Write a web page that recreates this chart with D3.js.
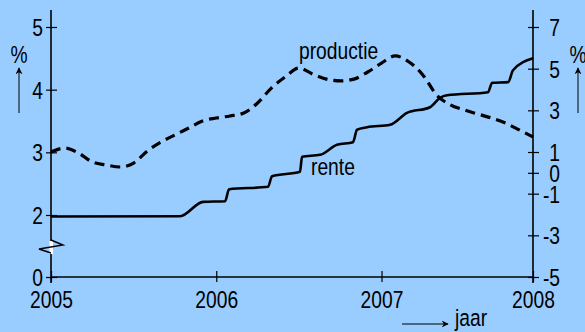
<!DOCTYPE html>
<html>
<head>
<meta charset="utf-8">
<script src="https://cdn.jsdelivr.net/npm/d3@7"></script>
<style>
  html, body { margin: 0; padding: 0; background: #99ccff; }
  svg { display: block; font-family: "Liberation Sans", Arial, sans-serif; }
</style>
</head>
<body>
<svg id="chart" width="585" height="332"></svg>
<script>
// Productie (% change, right axis), monthly from Jan 2005 (month 0) to Dec 2007 (month 35)
const prodMonths = d3.range(0, 36);
const prodValues = [1.0, 1.19, 0.95, 0.52, 0.38, 0.28, 0.47, 1.05, 1.48, 1.82, 2.15, 2.49,
                    2.63, 2.73, 2.87, 3.35, 4.07, 4.6, 5.03, 4.74, 4.5, 4.41, 4.5, 4.84,
                    5.27, 5.61, 5.32, 4.7, 3.74, 3.26, 3.02, 2.82, 2.63, 2.39, 2.06, 1.72];

// Rente (%, left axis), dated in months since Jan 2005
const renteMonths = [0, 9.37, 11.04, 12.64, 12.93, 15.76, 16.05, 18.08, 18.23, 19.54, 20.77,
                     21.93, 22.22, 22.95, 24.62, 25.85, 27.52, 28.25, 28.76, 31.74, 32.03,
                     33.19, 33.55, 35];
const renteValues = [1.95, 1.96, 2.21, 2.22, 2.41, 2.45, 2.62, 2.69, 2.93, 2.96, 3.12,
                     3.16, 3.36, 3.40, 3.44, 3.63, 3.72, 3.87, 3.91, 3.96, 4.11,
                     4.12, 4.31, 4.5];

const leftTicks = [0, 2, 3, 4, 5];
const rightTicks = [-5, -3, -1, 0, 1, 3, 5, 7];
const yearTickMonths = [0, 12, 24, 35];
const yearLabels = ["2005", "2006", "2007", "2008"];

const svg = d3.select("#chart");
const plotL = 51, plotR = 533, plotT = 27, plotB = 277;

const x = d3.scaleLinear().domain([0, 35]).range([plotL, plotR]);
// left axis is broken between 0 and 2
const yL = d3.scaleLinear().domain([0, 2, 5]).range([plotB, 215, plotT]);
const yR = d3.scaleLinear().domain([-5, 7]).range([plotB, plotT]);

// narrow lettering: regular face squeezed horizontally
const fontSize = 23.5;
const sx = 0.82;

function addText(px, py, str, anchor) {
  return svg.append("text")
    .attr("transform", `translate(${px},${py}) scale(${sx},1)`)
    .attr("text-anchor", anchor || "start")
    .attr("font-size", fontSize).attr("fill", "#000")
    .text(str);
}

// Axes
const gL = svg.append("g").attr("transform", `translate(${plotL},0)`)
  .call(d3.axisLeft(yL).tickValues(leftTicks).tickFormat(d3.format("d")).tickSize(0));
const gR = svg.append("g").attr("transform", `translate(${plotR},0)`)
  .call(d3.axisRight(yR).tickValues(rightTicks).tickFormat(d => d < 0 ? "-" + Math.abs(d) : d).tickSize(0));
const gB = svg.append("g").attr("transform", `translate(0,${plotB})`)
  .call(d3.axisBottom(x).tickValues(yearTickMonths).tickFormat((d, i) => yearLabels[i]).tickSize(0));

[gL, gR, gB].forEach(g => {
  g.select(".domain").remove();
  g.selectAll("text").attr("fill", "#000").attr("font-size", fontSize)
    .attr("font-family", "'Liberation Sans', Arial, sans-serif")
    .attr("transform", `scale(${sx},1)`);
});
gL.selectAll(".tick line").attr("x1", -5).attr("x2", 6).attr("stroke", "#000").attr("stroke-width", 1.2);
gR.selectAll(".tick line").attr("x1", -5).attr("x2", 6).attr("stroke", "#000").attr("stroke-width", 1.2);
gB.selectAll(".tick line").attr("y1", -6).attr("y2", 5).attr("stroke", "#000").attr("stroke-width", 1.2);
gL.selectAll("text").attr("text-anchor", "end").attr("x", -8 / sx).attr("dy", "0.36em");
gR.selectAll("text").attr("text-anchor", "end").attr("x", 27 / sx).attr("dy", "0.36em");
gB.selectAll("text").attr("text-anchor", "middle").attr("x", 0).attr("y", 31).attr("dy", 0);

// axis lines
svg.append("line").attr("x1", plotL).attr("x2", plotL).attr("y1", 10).attr("y2", 283)
  .attr("stroke", "#000").attr("stroke-width", 1.6);
svg.append("line").attr("x1", plotR).attr("x2", plotR).attr("y1", 10).attr("y2", 283)
  .attr("stroke", "#000").attr("stroke-width", 1.6);
svg.append("line").attr("x1", plotL).attr("x2", plotR).attr("y1", plotB).attr("y2", plotB)
  .attr("stroke", "#000").attr("stroke-width", 1.6);

// axis break mark
const yb = (yL(0) + yL(2)) / 2 + 2;
svg.append("rect").attr("x", plotL - 1.5).attr("y", yb - 7).attr("width", 3.5).attr("height", 13).attr("fill", "#fff");
svg.append("path")
  .attr("d", `M${plotL},${yb - 8} L${plotL + 12},${yb - 3} L${plotL - 12},${yb + 1} L${plotL},${yb + 5}`)
  .attr("fill", "none").attr("stroke", "#000").attr("stroke-width", 1.4);

// Lines
const prodLine = d3.line().x(d => x(d[0])).y(d => yR(d[1])).curve(d3.curveMonotoneX);
svg.append("path")
  .datum(prodMonths.map((m, i) => [m, prodValues[i]]))
  .attr("d", prodLine)
  .attr("fill", "none").attr("stroke", "#000").attr("stroke-width", 3.2)
  .attr("stroke-dasharray", "10,6");

const renteLine = d3.line().x(d => x(d[0])).y(d => yL(d[1])).curve(d3.curveMonotoneX);
svg.append("path")
  .datum(renteMonths.map((m, i) => [m, renteValues[i]]))
  .attr("d", renteLine)
  .attr("fill", "none").attr("stroke", "#000").attr("stroke-width", 2.6);

// Series labels
addText(299, 59, "productie");
addText(311, 175, "rente");

// Unit labels with arrows
const defs = svg.append("defs");
defs.append("marker").attr("id", "arr").attr("viewBox", "0 0 10 10").attr("refX", 9).attr("refY", 5)
  .attr("markerWidth", 7).attr("markerHeight", 7).attr("markerUnits", "userSpaceOnUse").attr("orient", "auto")
  .append("path").attr("d", "M0,0 L10,5 L0,10 L3,5 Z").attr("fill", "#000");

[19, 578].forEach(cx => {
  addText(cx, 63, "%", "middle");
  svg.append("line").attr("x1", cx).attr("x2", cx).attr("y1", 113).attr("y2", 68)
    .attr("stroke", "#000").attr("stroke-width", 1).attr("marker-end", "url(#arr)");
});

svg.append("line").attr("x1", 402).attr("x2", 448).attr("y1", 324).attr("y2", 324)
  .attr("stroke", "#000").attr("stroke-width", 1).attr("marker-end", "url(#arr)");
addText(455, 326, "jaar");
</script>
</body>
</html>
